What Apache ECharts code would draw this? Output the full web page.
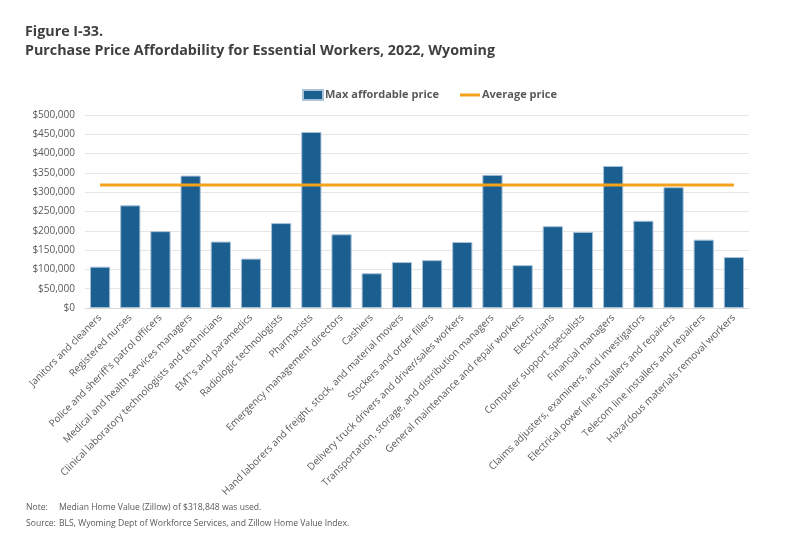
<!DOCTYPE html>
<html>
<head>
<meta charset="utf-8">
<script src="https://cdn.jsdelivr.net/npm/echarts@6/dist/echarts.min.js"></script>
<style>
  html, body { margin: 0; padding: 0; background: #fff; }
  #chart { width: 800px; height: 557px; }
</style>
</head>
<body>
<div id="chart"></div>
<script>
const occupations = [
  'Janitors and cleaners',
  'Registered nurses',
  "Police and sheriff's patrol officers",
  'Medical and health services managers',
  'Clinical laboratory technologists and technicians',
  "EMT's and paramedics",
  'Radiologic technologists',
  'Pharmacists',
  'Emergency management directors',
  'Cashiers',
  'Hand laborers and freight, stock, and material movers',
  'Stockers and order fillers',
  'Delivery truck drivers and driver/sales workers',
  'Transportation, storage, and distribution managers',
  'General maintenance and repair workers',
  'Electricians',
  'Computer support specialists',
  'Financial managers',
  'Claims adjusters, examiners, and investigators',
  'Electrical power line installers and repairers',
  'Telecom line installers and repairers',
  'Hazardous materials removal workers'
];
const maxAffordable = [
  107000, 266000, 199000, 343000, 172000, 128000, 220000, 456000, 191000, 90000, 119000,
  124000, 171000, 345000, 111000, 212000, 197000, 368000, 226000, 313000, 177000, 132000
];
const avgPrice = 318848;
const yTicks = [0, 50000, 100000, 150000, 200000, 250000, 300000, 350000, 400000, 450000, 500000];

const font = 'Open Sans';
const noteFont = '8.6px "Open Sans"';
const chart = echarts.init(document.getElementById('chart'));
chart.setOption({
  animation: false,
  textStyle: { fontFamily: font },
  title: {
    text: 'Figure I-33.\nPurchase Price Affordability for Essential Workers, 2022, Wyoming',
    left: 20,
    top: 18,
    textStyle: { fontFamily: font, fontSize: 14.3, fontWeight: 'bold', color: '#404040', lineHeight: 18.5 }
  },
  legend: {
    top: 84,
    left: 297,
    itemWidth: 20,
    itemHeight: 10,
    itemGap: 21,
    symbolKeepAspect: true,
    textStyle: { fontFamily: font, fontSize: 11, fontWeight: 'bold', color: '#595959', padding: [0, 0, 0, -3] },
    data: [
      { name: 'Max affordable price', icon: 'rect' },
      { name: 'Average price', icon: 'path://M0,0 L20,0 L20,3 L0,3 Z' }
    ]
  },
  grid: { left: 85, right: 51, top: 115, bottom: 249 },
  xAxis: {
    type: 'category',
    data: occupations,
    axisLine: { lineStyle: { color: '#d9d9d9' } },
    axisTick: { show: false },
    axisLabel: { interval: 0, rotate: 45, fontSize: 10, color: '#595959', margin: 8 }
  },
  yAxis: {
    type: 'value',
    min: yTicks[0],
    max: yTicks[yTicks.length - 1],
    interval: 50000,
    axisLine: { show: false },
    axisTick: { show: false },
    splitLine: { lineStyle: { color: '#e6e6e6' } },
    axisLabel: {
      fontSize: 10,
      color: '#595959',
      margin: 10,
      formatter: v => '$' + v.toLocaleString('en-US')
    }
  },
  series: [
    {
      name: 'Max affordable price',
      type: 'bar',
      data: maxAffordable,
      barWidth: '67%',
      itemStyle: { color: '#1b5f90', borderColor: '#a8c2d8', borderWidth: 1 }
    },
    {
      name: 'Average price',
      type: 'line',
      data: occupations.map(() => avgPrice),
      symbol: 'none',
      lineStyle: { color: '#f4a21c', width: 3 },
      itemStyle: { color: '#f4a21c' }
    }
  ],
  graphic: [
    { type: 'text', left: 26, top: 503, style: { text: 'Note:', font: noteFont, fill: '#595959' } },
    { type: 'text', left: 59, top: 503, style: { text: 'Median Home Value (Zillow) of $318,848 was used.', font: noteFont, fill: '#595959' } },
    { type: 'text', left: 26, top: 519, style: { text: 'Source:', font: noteFont, fill: '#595959' } },
    { type: 'text', left: 59, top: 519, style: { text: 'BLS, Wyoming Dept of Workforce Services, and Zillow Home Value Index.', font: noteFont, fill: '#595959' } }
  ]
});
</script>
</body>
</html>
